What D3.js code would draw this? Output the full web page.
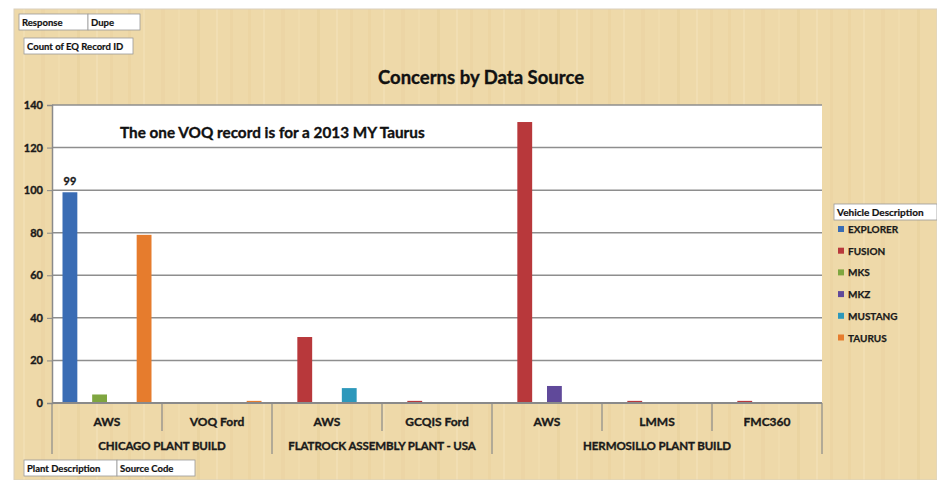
<!DOCTYPE html>
<html><head><meta charset="utf-8">
<script src="https://cdn.jsdelivr.net/npm/d3@7/dist/d3.min.js"></script>
<style>
html,body{margin:0;padding:0;background:#fff;}
svg{display:block;font-family:Lato,"Open Sans",sans-serif;}
svg text.t{stroke-width:0.35px;}
</style></head>
<body><svg id="c" width="937" height="480"></svg>
<script>
const categories = ["AWS","VOQ Ford","AWS","GCQIS Ford","AWS","LMMS","FMC360"];
const plants = ["CHICAGO PLANT BUILD","FLATROCK ASSEMBLY PLANT - USA","HERMOSILLO PLANT BUILD"];
const plantSpans = [2,2,3];
const vehicles = ["EXPLORER","FUSION","MKS","MKZ","MUSTANG","TAURUS"];
const explorer = [99,0,0,0,0,0,0];
const fusion   = [0,0,31,1,132,1,1];
const mks      = [4,0,0,0,0,0,0];
const mkz      = [0,0,0,0,8,0,0];
const mustang  = [0,0,7,0,0,0,0];
const taurus   = [79,1,0,0,0,0,0];
const yTicks = [0,20,40,60,80,100,120,140];
const colors = ["#3a6cb4","#b8383b","#7fa640","#60499a","#2d98bb","#e67c2d"];
const seriesValues = [explorer,fusion,mks,mkz,mustang,taurus];

const svg = d3.select("#c");
const defs = svg.append("defs");
const pat = defs.append("pattern").attr("id","wood").attr("patternUnits","userSpaceOnUse")
  .attr("width",120).attr("height",480);
pat.append("rect").attr("width",120).attr("height",480).attr("fill","#eed9a9");
[[8,3,"#e6cd96",0.35],[23,2,"#f5e4bd",0.45],[41,4,"#e9d09c",0.3],[58,2,"#f3e1b5",0.4],[77,3,"#e4ca90",0.3],[96,2,"#f6e7c3",0.4],[110,3,"#e8cf9a",0.3]]
  .forEach(([x,w,c,o])=>pat.append("rect").attr("x",x).attr("y",0).attr("width",w).attr("height",480).attr("fill",c).attr("opacity",o));

svg.append("rect").attr("x",14).attr("y",9).attr("width",923).attr("height",471).attr("fill","url(#wood)")
  .attr("stroke","#d9d0bd").attr("stroke-width",1);

const L=52,R=822,T=105,B=403;
const x0 = d3.scaleBand().domain(d3.range(categories.length)).range([L,R]).padding(0);
const x1 = d3.scaleBand().domain(d3.range(vehicles.length)).range([10.5, x0.bandwidth()-10.5]).padding(0);
const y = d3.scaleLinear().domain([0,140]).range([B,T]);

svg.append("rect").attr("x",L).attr("y",T).attr("width",R-L).attr("height",B-T).attr("fill","#ffffff");

svg.append("g").selectAll("line").data(yTicks.filter(d=>d>0)).join("line")
  .attr("x1",L).attr("x2",R).attr("y1",d=>y(d)).attr("y2",d=>y(d))
  .attr("stroke","#8e8e8e").attr("stroke-width",1.5);

const yAxis = svg.append("g").attr("transform",`translate(${L},0)`)
  .call(d3.axisLeft(y).tickValues(yTicks).tickSize(5).tickPadding(4));
yAxis.select(".domain").attr("stroke","#8a8a8a").attr("stroke-width",1.5);
yAxis.selectAll(".tick line").attr("stroke","#8a8a8a");
yAxis.selectAll("text").attr("class","t").attr("font-size",11).attr("font-weight","bold").attr("fill","#1a1a1a").attr("stroke","#1a1a1a")
  .attr("font-family","Lato,sans-serif");

const g = svg.append("g");
categories.forEach((c,ci)=>{
  seriesValues.forEach((vals,si)=>{
    const v = vals[ci];
    if(!v) return;
    g.append("rect").attr("x",x0(ci)+x1(si)).attr("width",x1.bandwidth())
      .attr("y",y(v)).attr("height",B-y(v)).attr("fill",colors[si]);
  });
});
svg.append("text").attr("class","t").attr("x",x0(0)+x1(0)+x1.bandwidth()/2).attr("y",y(explorer[0])-7)
  .attr("text-anchor","middle").attr("font-size",11).attr("font-weight","bold").attr("fill","#1a1a1a").attr("stroke","#1a1a1a").text(explorer[0]);

svg.append("line").attr("x1",L).attr("x2",R).attr("y1",B).attr("y2",B).attr("stroke","#8a8a8a").attr("stroke-width",2);

let groupBounds = [0]; plantSpans.reduce((a,s)=>{groupBounds.push(a+s);return a+s;},0);
d3.range(categories.length+1).forEach(i=>{
  const xx = i<categories.length ? x0(i) : R;
  const isGroup = groupBounds.includes(i);
  svg.append("line").attr("x1",xx).attr("x2",xx).attr("y1",B).attr("y2",isGroup?454:431)
    .attr("stroke","#8a8a8a").attr("stroke-width",1.2);
});
svg.append("g").selectAll("text").data(categories).join("text").attr("class","t")
  .attr("x",(d,i)=>x0(i)+x0.bandwidth()/2).attr("y",426)
  .attr("text-anchor","middle").attr("font-size",12).attr("font-weight","bold").attr("fill","#1a1a1a").attr("stroke","#1a1a1a").text(d=>d);
plants.forEach((p,pi)=>{
  const a=groupBounds[pi], b=groupBounds[pi+1];
  const xa=x0(a), xb = b<categories.length? x0(b):R;
  svg.append("text").attr("class","t").attr("x",(xa+xb)/2).attr("y",450).attr("text-anchor","middle")
    .attr("font-size",11.5).attr("font-weight","bold").attr("fill","#1a1a1a").attr("stroke","#1a1a1a").attr("letter-spacing","-0.1").text(p);
});

svg.append("text").attr("class","t").attr("x",481).attr("y",84).attr("text-anchor","middle").attr("font-size",18.5)
  .attr("font-weight","bold").attr("fill","#111").attr("stroke","#111").text("Concerns by Data Source");
svg.append("text").attr("class","t").attr("x",120).attr("y",138).attr("font-size",15.3)
  .attr("font-weight","bold").attr("fill","#111").attr("stroke","#111").text("The one VOQ record is for a 2013 MY Taurus");

function button(x,yy,w,h,t){
  svg.append("rect").attr("x",x).attr("y",yy).attr("width",w).attr("height",h).attr("fill","#ffffff").attr("stroke","#9a9a9a").attr("stroke-width",0.8);
  svg.append("text").attr("class","t").attr("x",x+3).attr("y",yy+h-4).attr("font-size",9.5).attr("font-weight","bold").attr("fill","#111").attr("stroke","#111").attr("style","stroke-width:0.2px").text(t);
}
button(19,14,69,16,"Response");
button(88,14,52,16,"Dupe");
button(24,38,109,16,"Count of  EQ Record ID");
button(24,460,93,16,"Plant Description");
button(117,460,78,16,"Source Code");

svg.append("rect").attr("x",834).attr("y",204).attr("width",103).attr("height",16).attr("fill","#fff").attr("stroke","#9a9a9a").attr("stroke-width",0.8);
svg.append("text").attr("class","t").attr("x",837).attr("y",216).attr("font-size",10).attr("font-weight","bold").attr("fill","#111").attr("stroke","#111").attr("style","stroke-width:0.2px").text("Vehicle Description");
const lg = svg.append("g").selectAll("g").data(vehicles).join("g")
  .attr("transform",(d,i)=>`translate(838,${230+i*21.7})`);
lg.append("rect").attr("x",0).attr("y",-4).attr("width",6).attr("height",6).attr("fill",(d,i)=>colors[i]);
lg.append("text").attr("class","t").attr("x",10).attr("y",3).attr("font-size",10).attr("font-weight","bold").attr("fill","#1a1a1a").attr("stroke","#1a1a1a").attr("style","stroke-width:0.25px").text(d=>d);
</script></body></html>
